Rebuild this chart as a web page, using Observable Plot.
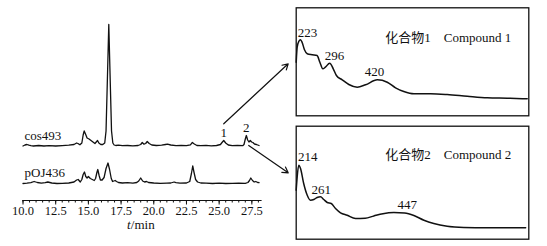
<!DOCTYPE html>
<html><head><meta charset="utf-8">
<script src="https://cdn.jsdelivr.net/npm/d3@7"></script>
<script src="https://cdn.jsdelivr.net/npm/@observablehq/plot@0.6"></script>
<style>
html,body{margin:0;padding:0;background:#fff;}
#chart{position:relative;width:547px;height:246px;overflow:hidden;}
#chart svg{position:absolute;left:0;top:0;}
</style></head><body><div id="chart"></div>
<script>
// ---- Chromatograms (retention time in min, relative intensity above each baseline) ----
const cosT = [10.0,10.15,10.3,10.45,10.6,10.8,11.2,11.6,12.0,12.5,13.0,13.5,13.9,14.1,14.2,14.35,14.5,14.6,14.68,14.78,14.9,15.05,15.2,15.35,15.5,15.6,15.7,15.8,15.95,16.1,16.25,16.35,16.45,16.56,16.67,16.77,16.87,16.97,17.1,17.3,17.6,18.0,18.4,18.8,19.0,19.12,19.25,19.38,19.5,19.65,19.85,20.2,20.6,20.9,21.05,21.3,21.7,22.1,22.5,22.8,22.95,23.1,23.3,23.6,24.0,24.4,24.8,25.1,25.25,25.35,25.5,25.7,26.0,26.4,26.8,26.9,27.0,27.08,27.18,27.28,27.38,27.48,27.58,27.7,27.85,28.05];
const cosI = [0,1,1.5,0.8,0.3,0,0.5,0,0.3,0,0.4,0.8,1.5,3,2.5,1.2,3,11,15,12,8,7,5.5,4,2.5,4,5.5,3,1.5,1.5,3,15,65,121.5,65,15,3,1,0.5,0.8,0.3,0.5,0.2,0.5,1.5,3.5,1.8,2.5,4.5,2.5,1,0.5,0.8,1.5,1.8,1,0.3,0.5,0.3,1.2,3.5,2,0.5,0.3,0.6,0.2,0.5,1.5,4,5.5,3,1,0.3,0.6,0.3,1.5,7,10.5,6,4,5.5,4,3.5,2,1.5,0.5];
const pojT = [10.0,10.3,10.6,10.85,11.1,11.4,11.7,11.9,12.2,12.6,13.0,13.5,13.9,14.1,14.22,14.38,14.5,14.6,14.7,14.8,14.9,15.0,15.15,15.3,15.45,15.55,15.65,15.72,15.82,15.92,16.05,16.2,16.35,16.5,16.62,16.75,16.85,16.95,17.05,17.15,17.3,17.6,18.0,18.4,18.7,18.85,19.0,19.15,19.3,19.45,19.6,20.0,20.5,21.0,21.3,21.55,21.7,22.0,22.5,22.75,22.88,22.98,23.08,23.2,23.35,23.6,24.0,24.5,25.0,25.5,26.0,26.5,27.0,27.2,27.32,27.42,27.55,27.68,27.8,27.95,28.05];
const pojI = [0,0.3,0.8,2,1,0.3,0.8,1.5,0.5,0,0.2,0.5,1.5,3.5,4,1.5,4,9,11.5,7,5.5,7,5,4,3,5,11,14,8,3.5,3.5,6,15,20.5,14,5,2,2.5,3,2,1,0.5,0.8,0.3,1,2.5,5.5,2.5,1.5,2,1,0.5,0.2,0.4,0.5,1.5,0.8,0.3,0.5,2,10,17.5,11,4,1.5,0.5,0.3,0,0.3,0,0.2,0.3,0.2,1,3,5.5,3,1.5,2,1,0.8];
const seriesNames = ["cos493", "pOJ436"];
const seriesOffsets = [37.5, 0];          // vertical stacking offset of each trace
const peakNames = ["1", "2"];
const peakTimes = [25.36, 27.08];
const peakHeights = [5.5, 10.5];
const majorTicks = d3.range(10, 28, 2.5);
const minorTicks = d3.range(10, 28.01, 0.5);
const axisTitleItalic = "t", axisTitleRest = "/min";
// arrows: from chromatogram peaks to the spectra panels (t, stacked intensity)
const arrowFromT = [25.35, 27.26], arrowFromV = [59.7, 38];
const arrowToT = [30.28, 30.28],   arrowToV = [119.7, 10.7];

// ---- UV spectra (wavelength nm, relative absorbance) ----
const spec1Wl = [210,212.5,216.6,221,225,231,238,250.6,263,270,277.6,284,295,304,312,326.7,343.5,364.8,385.9,415.6,441,462,483,508.5,551,593,644,694.8,745.5,796];
const spec1A  = [0.496,0.635,0.69,0.704,0.68,0.611,0.574,0.565,0.558,0.496,0.435,0.45,0.487,0.435,0.373,0.333,0.29,0.265,0.287,0.333,0.311,0.259,0.225,0.204,0.204,0.197,0.181,0.167,0.163,0.157];
const spec2Wl = [210,212.5,216.6,221,229,238,246,254.7,263,271.7,280,288.7,298.8,309.7,322.4,339.4,360.5,385,407,430,457.7,485,508.5,534,559,593,635,694.8,792];
const spec2A  = [0.434,0.552,0.655,0.626,0.493,0.389,0.345,0.351,0.369,0.375,0.351,0.325,0.316,0.272,0.234,0.212,0.183,0.185,0.206,0.226,0.236,0.232,0.21,0.168,0.139,0.115,0.104,0.101,0.101];
const spec1Labels = ["223", "296", "420"], spec1LabelWl = [238.7, 307.2, 408.7], spec1LabelA = [0.769, 0.558, 0.41];
const spec2Labels = ["214", "261", "447"], spec2LabelWl = [239.4, 273.5, 491.7], spec2LabelA = [0.729, 0.434, 0.301];
const titles = ["化合物1\u2003Compound 1", "化合物2\u2003Compound 2"];

// ---- build ----
const W = 547, H = 246;
const FONT = "'Liberation Serif','Times New Roman','Noto Sans CJK SC',serif";
const INK = "#111";
const zip = (xs, ys, kx, ky) => xs.map((x, i) => ({[kx]: x, [ky]: ys[i]}));

const cosData = zip(cosT, cosI, "t", "i").map(d => ({...d, v: d.i + seriesOffsets[0]}));
const pojData = zip(pojT, pojI, "t", "i").map(d => ({...d, v: d.i + seriesOffsets[1]}));
const seriesLabels = seriesNames.map((n, k) => ({name: n, t: 10, v: seriesOffsets[k]}));
const peakLabels = peakNames.map((n, k) => ({name: n, t: peakTimes[k], v: seriesOffsets[0] + peakHeights[k]}));
const arrows = arrowFromT.map((t, k) => ({x1: t, y1: arrowFromV[k], x2: arrowToT[k], y2: arrowToV[k]}));

const main = Plot.plot({
  width: W, height: H,
  marginLeft: 22.5, marginRight: 286.5, marginTop: 23, marginBottom: 46,
  x: {domain: [10, 28.2], axis: null, label: null},
  y: {domain: [0, 160], range: [183, 23], axis: null},
  style: {fontFamily: FONT, fontSize: "13px", background: "transparent", color: INK},
  marks: [
    Plot.frame({anchor: "bottom", stroke: INK, strokeWidth: 1.2}),
    Plot.axisX({ticks: minorTicks, tickSize: 2.5, tickFormat: () => "", stroke: INK, strokeWidth: 1, label: null}),
    Plot.axisX({ticks: majorTicks, tickSize: 4.5, tickPadding: 1.5, tickFormat: d => d.toFixed(1), fontSize: 12.5, stroke: INK, fill: INK, strokeWidth: 1, label: null}),
    Plot.text([axisTitleItalic], {frameAnchor: "bottom", dx: -11.5, dy: 28.5, textAnchor: "end", fontSize: 13, fontStyle: "italic", fill: INK}),
    Plot.text([axisTitleRest], {frameAnchor: "bottom", dx: -11.2, dy: 28.5, textAnchor: "start", fontSize: 13, fill: INK}),
    Plot.line(cosData, {x: "t", y: "v", stroke: INK, strokeWidth: 1.3}),
    Plot.line(pojData, {x: "t", y: "v", stroke: INK, strokeWidth: 1.3}),
    Plot.text(seriesLabels, {x: "t", y: "v", text: "name", textAnchor: "start", dx: 1.5, dy: -10.5, fontSize: 13, fill: INK}),
    Plot.text(peakLabels, {x: "t", y: "v", text: "name", dy: -8, fontSize: 13, fill: INK}),
    Plot.arrow(arrows, {x1: "x1", y1: "y1", x2: "x2", y2: "y2", stroke: INK, strokeWidth: 1.2, headLength: 8})
  ]
});

function spectrum(wl, a, labs, labWl, labA, title, box) {
  const data = zip(wl, a, "wl", "a");
  const labels = labs.map((s, k) => ({s, wl: labWl[k], a: labA[k]}));
  return Plot.plot({
    width: W, height: H,
    marginLeft: box.l, marginRight: W - box.r, marginTop: box.t, marginBottom: H - box.b,
    x: {domain: [210, 800], axis: null},
    y: {domain: [0, 1], axis: null},
    style: {fontFamily: FONT, fontSize: "13px", background: "transparent", color: INK},
    marks: [
      Plot.frame({stroke: INK, strokeWidth: 1.3}),
      Plot.line(data, {x: "wl", y: "a", stroke: INK, strokeWidth: 1.5, curve: "monotone-x"}),
      Plot.text(labels, {x: "wl", y: "a", text: "s", fontSize: 13, fill: INK}),
      Plot.text([title], {frameAnchor: "top-right", textAnchor: "end", dx: -17.5, dy: box.titleDy, fontSize: 13, fill: INK})
    ]
  });
}

const s1 = spectrum(spec1Wl, spec1A, spec1Labels, spec1LabelWl, spec1LabelA, titles[0], {l: 295.7, r: 528.3, t: 7.3, b: 115.3, titleDy: 25});
const s2 = spectrum(spec2Wl, spec2A, spec2Labels, spec2LabelWl, spec2LabelA, titles[1], {l: 295.7, r: 528.3, t: 125.7, b: 238.7, titleDy: 23.3});

document.getElementById("chart").append(main, s1, s2);
</script></body></html>
